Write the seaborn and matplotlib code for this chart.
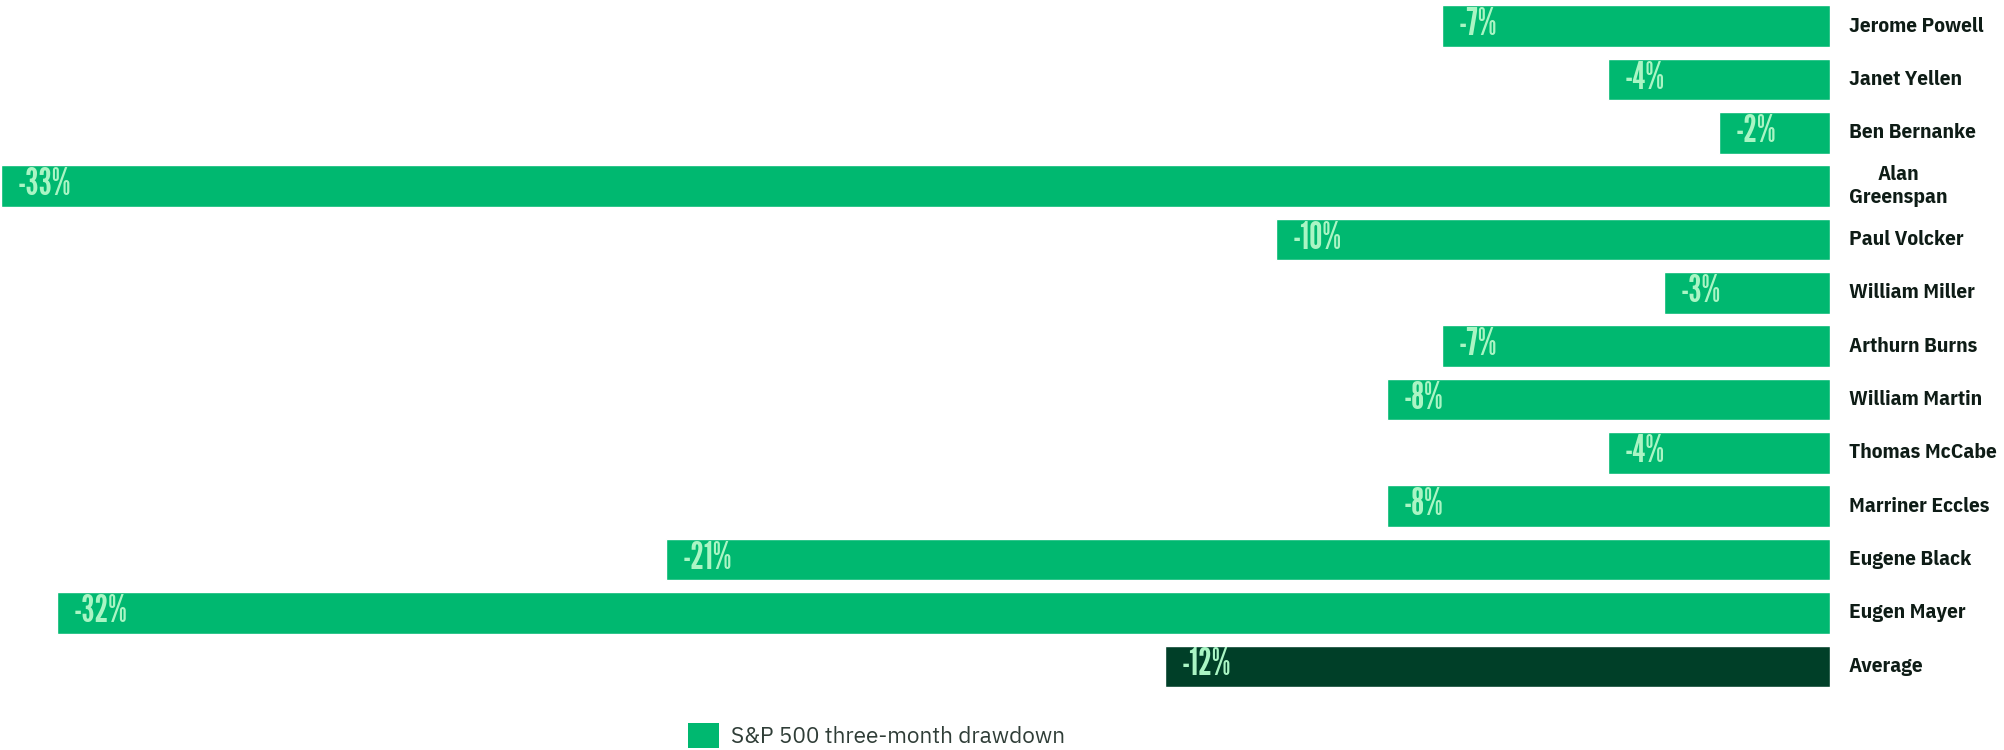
import matplotlib
matplotlib.use("Agg")
import matplotlib.pyplot as plt
import matplotlib.transforms as mtransforms
from matplotlib.patches import Patch
import pandas as pd
import seaborn as sns

# Fed chairs and the S&P 500 three-month drawdown during their tenure (%)
chairs = [
    "Jerome Powell", "Janet Yellen", "Ben Bernanke", "Alan\nGreenspan",
    "Paul Volcker", "William Miller", "Arthurn Burns", "William Martin",
    "Thomas McCabe", "Marriner Eccles", "Eugene Black", "Eugen Mayer", "Average",
]
drawdown = [-7, -4, -2, -33, -10, -3, -7, -8, -4, -8, -21, -32, -12]
legend_label = "S&P 500 three-month drawdown"

GREEN = "#00b870"
DARK = "#003f28"
VALUE_COLOR = "#aaf5c4"
NAME_COLOR = "#0e1c16"

sns.set_theme(style="white")
plt.rcParams["font.family"] = ["DejaVu Sans"]

df = pd.DataFrame({"chair": chairs, "drawdown": drawdown})
palette = {c: (DARK if c == "Average" else GREEN) for c in chairs}

fig = plt.figure(figsize=(20.04, 7.5), dpi=100)
ax = fig.add_axes([0.0, 1 - 693 / 750, 1830 / 2004, 693 / 750])

sns.barplot(data=df, x="drawdown", y="chair", hue="chair", palette=palette,
            order=chairs, hue_order=chairs, width=0.78, legend=False,
            saturation=1, ax=ax)

ax.set_xlim(-33.02, 0)
ax.set_ylim(12.5, -0.49)
ax.set_axis_off()

# value labels inside each bar, near its left end
for i, v in enumerate(drawdown):
    ax.annotate(f"{v}%", xy=(v, i), xytext=(12, 1), textcoords="offset points",
                ha="left", va="center", fontsize=27,
                family=["League Gothic", "DejaVu Sans"], color=VALUE_COLOR)

# chair names to the right of the bars
name_tr = mtransforms.blended_transform_factory(fig.transFigure, ax.transData)
for i, name in enumerate(chairs):
    ax.text(1849 / 2004, i, name, transform=name_tr, ha="left", va="center",
            fontsize=15.4, family=["IBM Plex Sans Condensed", "DejaVu Sans"],
            fontweight="bold", color=NAME_COLOR,
            multialignment="center", linespacing=1.3, clip_on=False)

handle = Patch(facecolor=GREEN, edgecolor="none")
fig.legend(handles=[handle], labels=[legend_label], loc="upper left",
           bbox_to_anchor=(688 / 2004, 1 - 723 / 750), frameon=False,
           borderpad=0, borderaxespad=0, handlelength=1.35, handleheight=1.35,
           handletextpad=0.55,
           prop={"family": ["IBM Plex Sans", "DejaVu Sans"], "weight": "light",
                 "size": 16.3},
           labelcolor="#2f3d37")

fig.savefig("out.png", dpi=100)
